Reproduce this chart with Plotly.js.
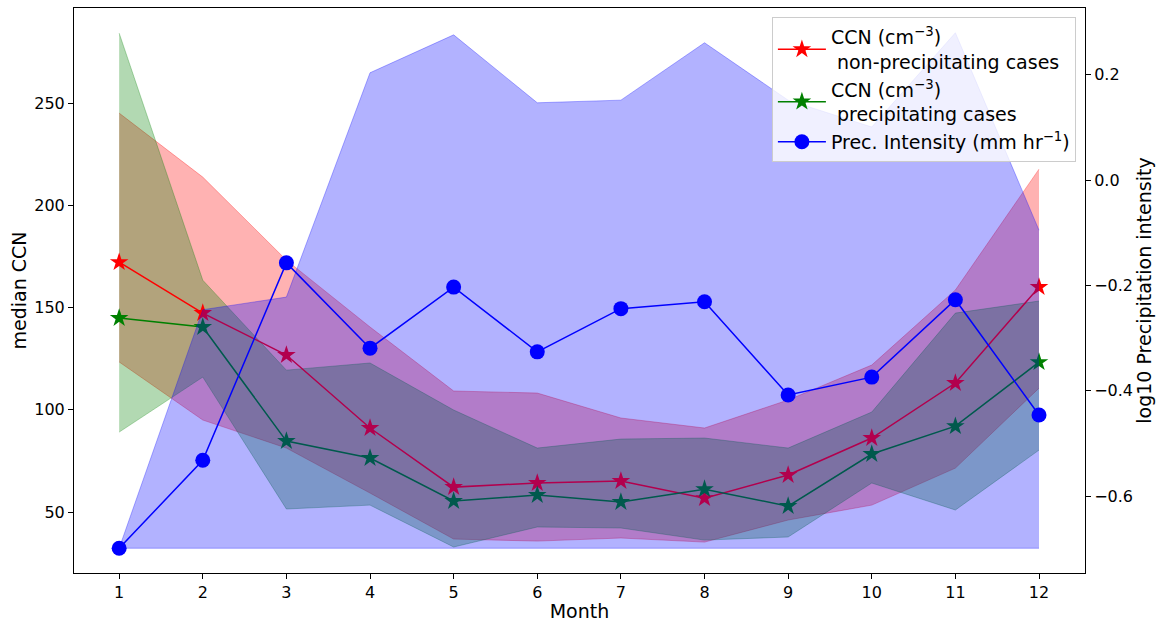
<!DOCTYPE html>
<html>
<head>
<meta charset="utf-8">
<script src="https://cdn.plot.ly/plotly-3.0.1.min.js"></script>
<style>html,body{margin:0;padding:0;background:#fff;}#chart{width:1161px;height:622px;}</style>
</head>
<body>
<div id="chart"></div>
<script>
const months = [1,2,3,4,5,6,7,8,9,10,11,12];

// CCN non-precipitating (median and spread)
const ccnNonPrec      = [172.2,147.3,126.8,91.1,62.2,64.2,65.2,56.8,68.1,86.2,113.1,160.0];
const ccnNonPrecLow   = [123.4,95.0,81.3,59.3,36.8,35.8,37.3,35.3,46.1,53.4,71.5,110.6];
const ccnNonPrecHigh  = [245.1,213.8,173.2,140.5,109.2,108.2,96.0,91.1,104.8,121.9,158.6,217.7];

// CCN precipitating (median and spread)
const ccnPrec         = [144.9,140.5,84.7,76.4,55.4,58.3,54.9,61.2,52.9,78.4,92.0,123.3];
const ccnPrecLow      = [89.1,116.0,51.5,53.4,32.9,42.7,42.2,36.3,37.8,64.2,51.0,80.3];
const ccnPrecHigh     = [284.2,163.4,119.4,122.9,99.9,81.3,85.7,86.2,81.3,98.9,147.3,153.2];

// log10 precipitation intensity (median and spread)
const precInt         = [-0.699,-0.532,-0.157,-0.319,-0.203,-0.326,-0.244,-0.231,-0.408,-0.374,-0.227,-0.446];
const precLow         = [-0.699,-0.699,-0.699,-0.699,-0.699,-0.699,-0.699,-0.699,-0.699,-0.699,-0.699,-0.699];
const precHigh        = [-0.699,-0.246,-0.222,0.204,0.276,0.147,0.152,0.261,0.152,0.101,0.280,-0.095];

const legendNames = [
  'CCN (cm<sup>−3</sup>)<br> non-precipitating cases',
  'CCN (cm<sup>−3</sup>)<br> precipitating cases',
  'Prec. Intensity (mm hr<sup>−1</sup>)'
];

const redFill = 'rgba(255,0,0,0.3)';
const greenFill = 'rgba(0,128,0,0.3)';
const blueFill = 'rgba(0,0,255,0.3)';

function band(lo, hi, color, yaxis) {
  return [
    {x: months, y: lo, type: 'scatter', mode: 'lines', yaxis: yaxis,
     line: {color: color, width: 1}, showlegend: false, hoverinfo: 'skip'},
    {x: months, y: hi, type: 'scatter', mode: 'lines', yaxis: yaxis, fill: 'tonexty',
     fillcolor: color, line: {color: color, width: 1}, showlegend: false, hoverinfo: 'skip'}
  ];
}

const data = [].concat(
  band(ccnNonPrecLow, ccnNonPrecHigh, redFill, 'y'),
  band(ccnPrecLow, ccnPrecHigh, greenFill, 'y'),
  [
    {x: months, y: ccnNonPrec, type: 'scatter', mode: 'lines+markers', name: legendNames[0],
     line: {color: 'red', width: 1.5}, marker: {symbol: 'star', size: 14, color: 'red'}},
    {x: months, y: ccnPrec, type: 'scatter', mode: 'lines+markers', name: legendNames[1],
     line: {color: 'green', width: 1.5}, marker: {symbol: 'star', size: 14, color: 'green'}}
  ],
  band(precLow, precHigh, blueFill, 'y2'),
  [
    {x: months, y: precInt, type: 'scatter', mode: 'lines+markers', name: legendNames[2], yaxis: 'y2',
     line: {color: 'blue', width: 1.5}, marker: {symbol: 'circle', size: 15, color: 'blue'}}
  ]
);

const fontFamily = 'DejaVu Sans, sans-serif';
const layout = {
  width: 1161, height: 622,
  margin: {l: 74, r: 76, t: 8, b: 49},
  paper_bgcolor: '#fff', plot_bgcolor: '#fff',
  font: {family: fontFamily, size: 16, color: '#000'},
  showlegend: true,
  legend: {x: 0.991, y: 0.984, xanchor: 'right', yanchor: 'top', traceorder: 'normal',
           itemwidth: 48,
           bgcolor: 'rgba(255,255,255,0.8)', bordercolor: '#cccccc', borderwidth: 1,
           font: {family: fontFamily, size: 19, color: '#000'}, tracegroupgap: 4},
  xaxis: {range: [0.46, 12.55], tickmode: 'array', tickvals: months, ticktext: months.map(String),
          showgrid: false, zeroline: false, showline: true, mirror: true, linecolor: '#000', linewidth: 1,
          ticks: 'outside', ticklen: 5, tickcolor: '#000',
          title: {text: 'Month', font: {size: 19}, standoff: 3}},
  yaxis: {range: [20.2, 296.5], tickvals: [50,100,150,200,250],
          showgrid: false, zeroline: false, showline: true, linecolor: '#000', linewidth: 1,
          ticks: 'outside', ticklen: 5, tickcolor: '#000',
          title: {text: 'median CCN', font: {size: 19}, standoff: 2}},
  yaxis2: {range: [-0.746, 0.327], overlaying: 'y', side: 'right',
           tickvals: [-0.6,-0.4,-0.2,0.0,0.2], tickformat: '.1f',
           showgrid: false, zeroline: false, showline: true, linecolor: '#000', linewidth: 1,
           ticks: 'outside', ticklen: 5, tickcolor: '#000',
           title: {text: 'log10 Precipitation intensity', font: {size: 19}, standoff: 5}}
};

Plotly.newPlot('chart', data, layout, {displayModeBar: false, staticPlot: true});
</script>
</body>
</html>
